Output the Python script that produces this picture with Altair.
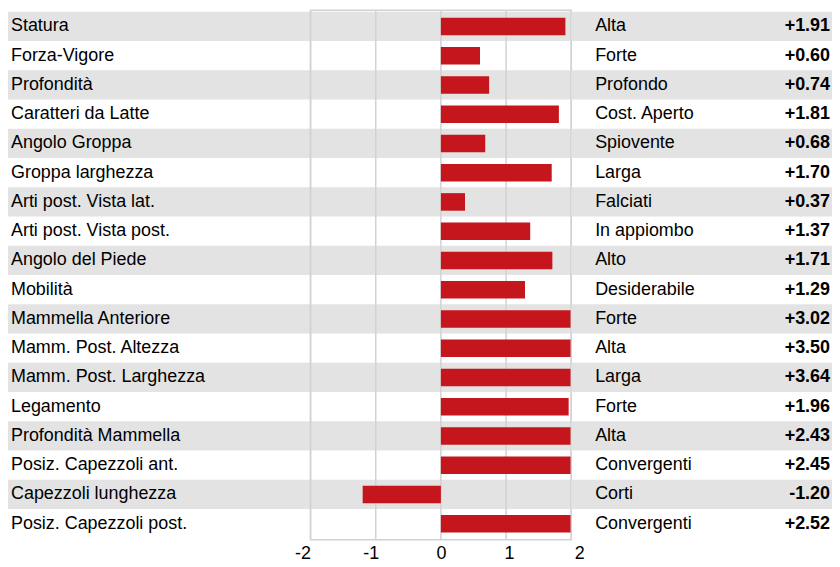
import altair as alt
import pandas as pd

traits = [
    "Statura", "Forza-Vigore", "Profondità", "Caratteri da Latte", "Angolo Groppa",
    "Groppa larghezza", "Arti post. Vista lat.", "Arti post. Vista post.",
    "Angolo del Piede", "Mobilità", "Mammella Anteriore", "Mamm. Post. Altezza",
    "Mamm. Post. Larghezza", "Legamento", "Profondità Mammella",
    "Posiz. Capezzoli ant.", "Capezzoli lunghezza", "Posiz. Capezzoli post.",
]
descriptors = [
    "Alta", "Forte", "Profondo", "Cost. Aperto", "Spiovente", "Larga", "Falciati",
    "In appiombo", "Alto", "Desiderabile", "Forte", "Alta", "Larga", "Forte",
    "Alta", "Convergenti", "Corti", "Convergenti",
]
values = [1.91, 0.60, 0.74, 1.81, 0.68, 1.70, 0.37, 1.37, 1.71, 1.29,
          3.02, 3.50, 3.64, 1.96, 2.43, 2.45, -1.20, 2.52]
ticks = [-2, -1, 0, 1, 2]

GRAY = "#e3e3e3"
GRID = "#d2d2d2"
RED = "#c4161c"
FS = 18
H = 532

df = pd.DataFrame({"trait": traits, "desc": descriptors, "value": values})
df["label"] = [f"{v:+.2f}" for v in values]
df["stripe"] = [i % 2 == 0 for i in range(len(traits))]
tick_df = pd.DataFrame({"tick": ticks})

y = alt.Y("trait:N", axis=None,
          scale=alt.Scale(domain=traits, paddingInner=0, paddingOuter=0.05))
xscale = alt.Scale(domain=[ticks[0], ticks[-1]], clamp=True, nice=False, zero=False)
label_offset = {
    "condition": [
        {"test": "datum.value == -2", "value": -8},
        {"test": "datum.value == -1", "value": -5},
        {"test": "datum.value == 1", "value": 3},
        {"test": "datum.value == 2", "value": 8},
    ],
    "value": 0,
}
xaxis = alt.Axis(title=None, grid=False, domain=False, ticks=False,
                 labelFontSize=FS, labelColor="black", labelPadding=5,
                 values=ticks, labelExpr="'' + datum.value",
                 labelFlush=False, labelOverlap=False, labelOffset=label_offset)

base = alt.Chart(df)
bands = base.transform_filter("datum.stripe").mark_rect(color=GRAY).encode(y=y)

# left column: trait names
text_left = base.mark_text(align="left", baseline="middle", fontSize=FS, color="black").encode(
    y=y, x=alt.value(3), text="trait:N")
left = alt.layer(bands, text_left).properties(width=304, height=H)

# center: bars
rules = alt.Chart(tick_df).mark_rule(color=GRID, strokeWidth=1.5).encode(
    x=alt.X("tick:Q", scale=xscale, axis=xaxis))
bars = base.mark_bar(color=RED, height=alt.RelativeBandSize(0.6)).encode(
    y=y, x=alt.X("value:Q", scale=xscale, axis=xaxis), x2=alt.datum(0))
frame = alt.Chart(alt.Data(values=[{}])).mark_rect(
    filled=False, stroke=GRID, strokeWidth=1.5).encode(
    x=alt.datum(ticks[0]), x2=alt.datum(ticks[-1]))
center = alt.layer(bands, rules, bars, frame).properties(width=262, height=H)

# right column: descriptor and value
text_desc = base.mark_text(align="left", baseline="middle", fontSize=FS, color="black").encode(
    y=y, x=alt.value(24), text="desc:N")
text_val = base.mark_text(align="right", baseline="middle", fontSize=FS, color="black",
                          fontWeight="bold").encode(
    y=y, x=alt.value(260), text="label:N")
right = alt.layer(bands, text_desc, text_val).properties(width=262, height=H)

chart = (
    alt.hconcat(left, center, right, spacing=0, bounds="flush")
    .properties(padding=0)
    .configure(font="Liberation Sans")
    .configure_view(stroke=None)
)

chart.save("out.html", embed_options={"renderer": "svg", "actions": False})
